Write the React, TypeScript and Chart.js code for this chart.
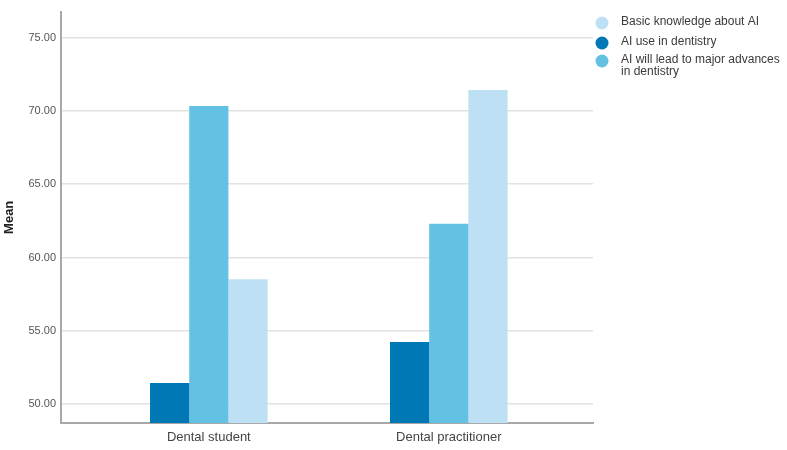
import React, { useEffect, useRef } from "react";
import { Chart, registerables } from "chart.js";

Chart.register(...registerables);

const categories = ["Dental student", "Dental practitioner"];
const seriesNames = [
  "AI use in dentistry",
  "AI will lead to major advances in dentistry",
  "Basic knowledge about AI",
];
const aiUse = [51.43, 54.23];
const aiAdvances = [70.33, 62.3];
const basicKnowledge = [58.52, 71.42];
const yTicks = [50, 55, 60, 65, 70, 75];
const colors = ["#0078b6", "#63c2e4", "#bde0f5"];
const legendOrder = [2, 0, 1];
const legendLines = [
  ["AI use in dentistry"],
  ["AI will lead to major advances", "in dentistry"],
  ["Basic knowledge about AI"],
];

const FONT = "'Liberation Sans', Arial, sans-serif";

const legendPlugin = {
  id: "customLegend",
  afterDraw(chart: any) {
    const ctx = chart.ctx;
    ctx.save();
    const cx = 602;
    const ys = [23, 43, 61];
    ctx.font = `12px ${FONT}`;
    ctx.textBaseline = "middle";
    ctx.textAlign = "left";
    legendOrder.forEach((di, i) => {
      const y = ys[i];
      ctx.beginPath();
      ctx.arc(cx, y, 6.5, 0, Math.PI * 2);
      ctx.fillStyle = colors[di];
      ctx.fill();
      ctx.fillStyle = "#3a3a3a";
      legendLines[di].forEach((line, li) => {
        ctx.fillText(line, 621, y - 1 + li * 12);
      });
    });
    ctx.restore();
  },
};

export default function App() {
  const ref = useRef<HTMLCanvasElement>(null);
  useEffect(() => {
    document.body.style.margin = "0";
    const values = [aiUse, aiAdvances, basicKnowledge];
    const chart = new Chart(ref.current!, {
      type: "bar",
      data: {
        datasets: seriesNames.map((name, di) => ({
          label: name,
          data: categories.map((_, ci) => ({ x: ci, y: values[di][ci] })),
          backgroundColor: colors[di],
          borderWidth: 0,
          categoryPercentage: 0.49,
          barPercentage: 1.0,
        })),
      },
      options: {
        animation: false,
        responsive: false,
        layout: { padding: { top: 4, right: 194, left: 0, bottom: 0 } },
        plugins: { legend: { display: false }, tooltip: { enabled: false } },
        scales: {
          x: {
            type: "linear",
            offset: false,
            min: -0.616,
            max: 1.601,
            afterBuildTicks(scale: any) {
              scale.ticks = categories.map((_, i) => ({ value: i }));
            },
            afterFit(scale: any) {
              scale.height = 27;
            },
            ticks: {
              callback: (v: any) => categories[v] ?? "",
              font: { family: FONT, size: 13 },
              color: "#444",
              padding: 7,
              maxRotation: 0,
              autoSkip: false,
            },
            grid: { display: false, drawTicks: false, offset: false },
            border: { display: true, color: "#a8a8a8", width: 2 },
          },
          y: {
            min: 48.71,
            max: 76.77,
            afterBuildTicks(scale: any) {
              scale.ticks = yTicks.map((v) => ({ value: v }));
            },
            afterFit(scale: any) {
              scale.width = 61;
            },
            ticks: {
              callback: (v: any) => Number(v).toFixed(2),
              font: { family: FONT, size: 11 },
              color: "#555",
              padding: 5,
            },
            grid: { color: "#e2e2e2", lineWidth: 1.5, drawTicks: false },
            border: { display: true, color: "#a8a8a8", width: 2 },
            title: {
              display: true,
              text: "Mean",
              font: { family: FONT, size: 13, weight: "bold" },
              color: "#222",
              padding: { top: 2, bottom: 2 },
            },
          },
        },
      },
      plugins: [legendPlugin],
    } as any);
    return () => chart.destroy();
  }, []);
  return (
    <div style={{ width: 787, height: 450 }}>
      <canvas ref={ref} width={787} height={450} />
    </div>
  );
}
